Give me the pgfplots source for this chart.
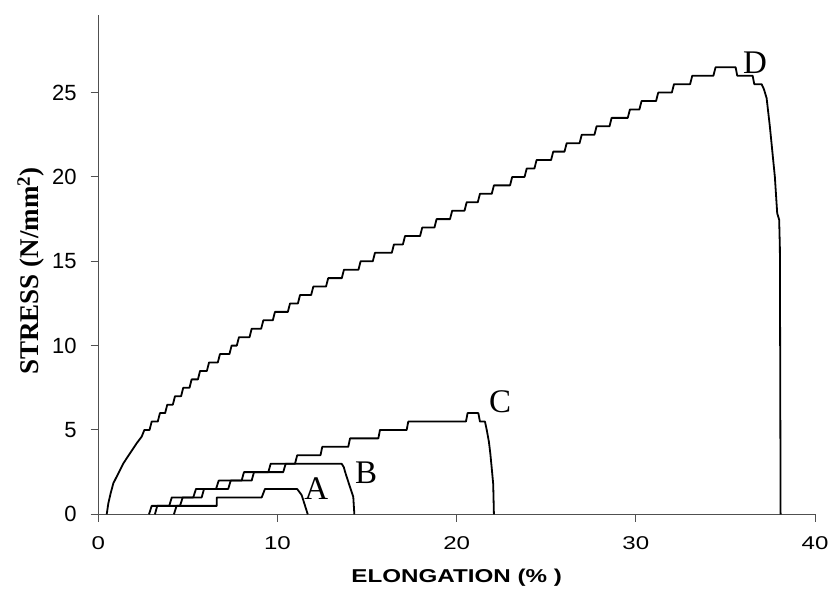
\documentclass[border=0pt]{standalone}
\usepackage{pgfplots}
\pgfplotsset{compat=1.18}
\usepackage{fontspec}
\setmainfont{Liberation Serif}
\setsansfont{Liberation Sans}
\definecolor{axisgray}{HTML}{505050}
\begin{document}
\begin{tikzpicture}
\useasboundingbox (-98.3pt,-83.7pt) rectangle (734.7pt,514.3pt);
\begin{axis}[
  at={(0,0)}, anchor=south west,
  scale only axis, width=716.7pt, height=499.3pt,
  xmin=0, xmax=40, ymin=0, ymax=29.6,
  axis x line*=bottom, axis y line*=left,
  axis line style={axisgray, line width=1.1pt},
  xtick={0,10,20,30,40}, ytick={0,5,10,15,20,25},
  minor tick num=0,
  tick align=outside, major tick length=7.6pt,
  tick style={axisgray, line width=1pt},
  /pgf/number format/assume math mode=true,
  xticklabel style={font=\fontsize{18.5}{20}\sffamily, xscale=1.3, inner sep=0pt, yshift=-14pt},
  yticklabel style={font=\fontsize{22}{24}\sffamily, inner sep=0pt, xshift=-14pt},
  xlabel={\bfseries ELONGATION (\% )},
  xlabel style={font=\fontsize{18.6}{20}\sffamily, xscale=1.3, at={(rel axis cs:0.5,-0.1276)}, anchor=center},
  ylabel={\bfseries STRESS (N/mm\textsuperscript{2})},
  ylabel style={font=\fontsize{27}{30}\selectfont, at={(rel axis cs:-0.0939,0.487)}, anchor=center},
  clip=false,
]
% Curve D
\addplot[black, line width=1.8pt, line join=round] coordinates {
(0.47,0) (0.56,0.65) (0.69,1.25) (0.84,1.84) (1.12,2.43) (1.40,3.02) (1.77,3.62) (2.14,4.21) (2.42,4.6) (2.57,5.0)
(2.86,5.0) (2.98,5.5)
(3.32,5.5) (3.44,6.0)
(3.73,6.0) (3.85,6.5)
(4.16,6.5) (4.28,7.0)
(4.62,7.0) (4.74,7.5)
(5.09,7.5) (5.21,8.0)
(5.56,8.0) (5.68,8.5)
(6.06,8.5) (6.18,9.0)
(6.67,9.0) (6.79,9.5)
(7.32,9.5) (7.44,10.0)
(7.73,10.0) (7.85,10.5)
(8.44,10.5) (8.56,11.0)
(9.09,11.0) (9.21,11.5)
(9.74,11.5) (9.86,12.0)
(10.58,12.0) (10.70,12.5)
(11.14,12.5) (11.26,13.0)
(11.88,13.0) (12.0,13.5)
(12.71,13.5) (12.83,14.0)
(13.59,14.0) (13.71,14.5)
(14.52,14.5) (14.64,15.0)
(15.32,15.0) (15.44,15.5)
(16.38,15.5) (16.50,16.0)
(17.0,16.0) (17.12,16.5)
(17.96,16.5) (18.08,17.0)
(18.76,17.0) (18.88,17.5)
(19.63,17.5) (19.75,18.0)
(20.44,18.0) (20.56,18.5)
(21.18,18.5) (21.30,19.0)
(21.96,19.0) (22.08,19.5)
(22.98,19.5) (23.10,20.0)
(23.79,20.0) (23.91,20.5)
(24.34,20.5) (24.46,21.0)
(25.27,21.0) (25.39,21.5)
(26.02,21.5) (26.14,22.0)
(26.86,22.0) (26.98,22.5)
(27.69,22.5) (27.81,23.0)
(28.53,23.0) (28.65,23.5)
(29.55,23.5) (29.67,24.0)
(30.20,24.0) (30.32,24.5)
(31.13,24.5) (31.25,25.0)
(32.01,25.0) (32.13,25.5)
(33.03,25.5) (33.15,26.0)
(34.33,26.0) (34.45,26.5)
(35.57,26.5) (35.66,26.0)
(36.52,26.0) (36.61,25.5)
(37.02,25.5) (37.15,25.2) (37.30,24.67) (37.48,23.0) (37.76,20.0) (37.89,17.85) (38.0,17.46) (38.04,15.78) (38.08,0)
};
% Curve C
\addplot[black, line width=1.8pt, line join=round] coordinates {
(2.83,0) (2.98,0.5)
(3.96,0.5) (4.10,1.0)
(5.30,1.0) (5.45,1.5)
(6.57,1.5) (6.72,2.0)
(8.00,2.0) (8.13,2.5)
(9.49,2.5) (9.62,3.0)
(10.98,3.0) (11.10,3.5)
(12.40,3.5) (12.50,4.0)
(13.95,4.0) (14.05,4.5)
(15.63,4.5) (15.72,5.0)
(17.21,5.0) (17.30,5.5)
(20.52,5.5) (20.61,6.0)
(21.21,6.0) (21.30,5.5)
(21.58,5.5) (21.68,5.0) (21.80,4.3) (21.88,3.6) (21.97,2.6) (22.04,1.8) (22.08,0)
};
% Curve B
\addplot[black, line width=1.8pt, line join=round] coordinates {
(3.16,0) (3.29,0.5)
(4.56,0.5) (4.71,1.0)
(5.77,1.0) (5.90,1.5)
(7.25,1.5) (7.39,2.0)
(8.56,2.0) (8.69,2.5)
(10.32,2.5) (10.46,3.0)
(13.58,3.0) (13.70,2.8) (13.77,2.53) (14.04,1.64) (14.23,1.04) (14.29,0)
};
% Curve A
\addplot[black, line width=1.8pt, line join=round] coordinates {
(4.22,0) (4.37,0.5)
(6.61,0.5) (6.61,1.0)
(9.12,1.0) (9.30,1.5)
(11.10,1.5) (11.35,1.14) (11.69,0)
};
\node[font=\fontsize{33}{36}\selectfont] at (axis cs:12.16,1.5) {A};
\node[font=\fontsize{33}{36}\selectfont] at (axis cs:14.95,2.46) {B};
\node[font=\fontsize{33}{36}\selectfont] at (axis cs:22.42,6.68) {C};
\node[font=\fontsize{33}{36}\selectfont] at (axis cs:36.65,26.78) {D};
\end{axis}
\end{tikzpicture}
\end{document}
